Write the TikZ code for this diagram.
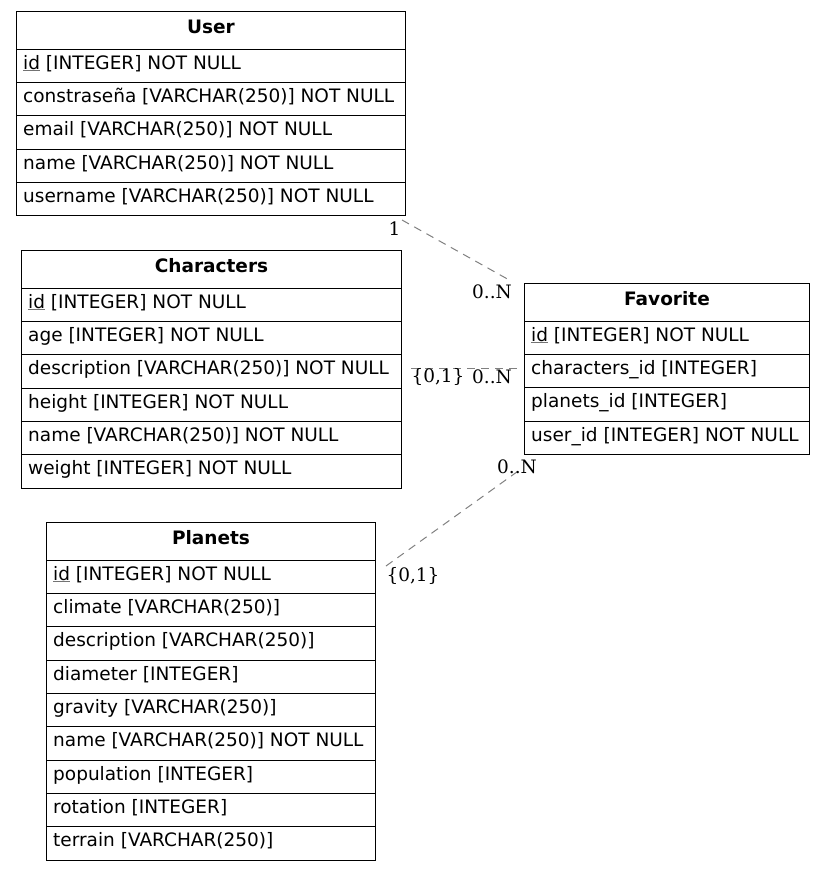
\documentclass[tikz,border=0pt]{standalone}
\usepackage{fontspec}
\setmainfont{DejaVu Sans}
\newfontfamily\lblfont{DejaVu Serif}
\definecolor{edgegray}{RGB}{128,128,128}
\newcommand\pkey[1]{\textcolor{black!55}{\underline{\textcolor{black}{#1}}}}
\newcommand\ehdr[5]{%
 \node[hdrbox, minimum width=#4] (#1) at (#2,#3) {};
 \node[hdrtext] (#1-t) at ([yshift=-22.5pt]#1.north) {#5};}
\newcommand\erow[5]{%
 \node[rowbox, minimum width=#4] (#1) at (#2,#3) {};
 \node[rowtext] (#1-t) at ([xshift=7pt,yshift=-20.5pt]#1.north west) {#5};}
\begin{document}
\begin{tikzpicture}[x=1pt, y=-1pt,
 rowbox/.style={draw=black, line width=1pt, minimum height=33.33pt, inner sep=0pt, anchor=north west},
 hdrbox/.style={rowbox, minimum height=37.5pt},
 rowtext/.style={anchor=base west, inner sep=0pt, font=\fontsize{18.5}{22}\selectfont},
 hdrtext/.style={anchor=base, inner sep=0pt, font=\fontsize{18.5}{22}\selectfont\bfseries},
 rel/.style={draw=edgegray, line width=1pt, dash pattern=on 8pt off 6pt},
 card/.style={font=\lblfont\fontsize{18.5}{21}\selectfont, inner sep=0pt, text=black}]
\useasboundingbox (0,0) rectangle (825,871);
% User
\ehdr{uh}{16}{11}{389}{User}
\erow{u1}{16}{48.5}{389}{\pkey{id} [INTEGER] NOT NULL}
\erow{u2}{16}{81.83}{389}{constraseña [VARCHAR(250)] NOT NULL}
\erow{u3}{16}{115.17}{389}{email [VARCHAR(250)] NOT NULL}
\erow{u4}{16}{148.5}{389}{name [VARCHAR(250)] NOT NULL}
\erow{u5}{16}{181.83}{389}{username [VARCHAR(250)] NOT NULL}
% Characters
\ehdr{ch}{21}{250}{380}{Characters}
\erow{c1}{21}{287.5}{380}{\pkey{id} [INTEGER] NOT NULL}
\erow{c2}{21}{320.83}{380}{age [INTEGER] NOT NULL}
\erow{c3}{21}{354.17}{380}{description [VARCHAR(250)] NOT NULL}
\erow{c4}{21}{387.5}{380}{height [INTEGER] NOT NULL}
\erow{c5}{21}{420.83}{380}{name [VARCHAR(250)] NOT NULL}
\erow{c6}{21}{454.17}{380}{weight [INTEGER] NOT NULL}
% Favorite
\ehdr{fh}{524}{283}{285}{Favorite}
\erow{f1}{524}{320.5}{285}{\pkey{id} [INTEGER] NOT NULL}
\erow{f2}{524}{353.83}{285}{characters\_id [INTEGER]}
\erow{f3}{524}{387.17}{285}{planets\_id [INTEGER]}
\erow{f4}{524}{420.5}{285}{user\_id [INTEGER] NOT NULL}
% Planets
\ehdr{ph}{46}{522}{329}{Planets}
\erow{p1}{46}{559.5}{329}{\pkey{id} [INTEGER] NOT NULL}
\erow{p2}{46}{592.83}{329}{climate [VARCHAR(250)]}
\erow{p3}{46}{626.17}{329}{description [VARCHAR(250)]}
\erow{p4}{46}{659.5}{329}{diameter [INTEGER]}
\erow{p5}{46}{692.83}{329}{gravity [VARCHAR(250)]}
\erow{p6}{46}{726.17}{329}{name [VARCHAR(250)] NOT NULL}
\erow{p7}{46}{759.5}{329}{population [INTEGER]}
\erow{p8}{46}{792.83}{329}{rotation [INTEGER]}
\erow{p9}{46}{826.17}{329}{terrain [VARCHAR(250)]}
% relations
\coordinate (e1a) at (402,220);
\coordinate (e1b) at (511,281);
\coordinate (e2a) at (411,368);
\coordinate (e2b) at (518,368);
\coordinate (e3a) at (386,566);
\coordinate (e3b) at (521,469);
\draw[rel] (e1a) -- (e1b);
\draw[rel] (e2a) -- (e2b);
\draw[rel] (e3a) -- (e3b);
\node[card] (l1a) at (394.5,229) {1};
\node[card] (l1b) at (492,292) {0..N};
\node[card] (l2a) at (438,377) {\{0,1\}};
\node[card] (l2b) at (492,377) {0..N};
\node[card] (l3a) at (413,576) {\{0,1\}};
\node[card] (l3b) at (517,467) {0..N};
\end{tikzpicture}
\end{document}
